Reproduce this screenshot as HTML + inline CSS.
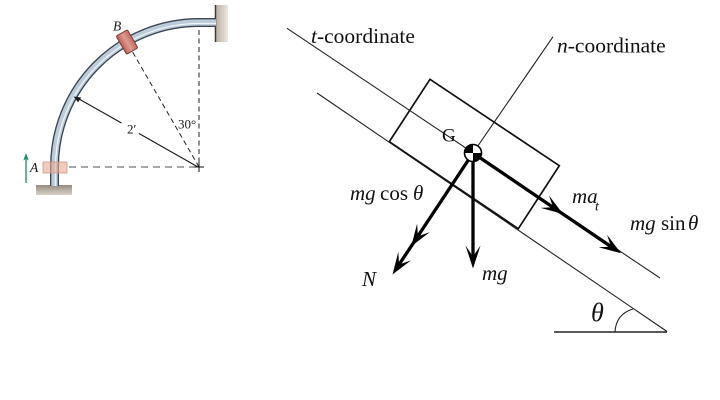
<!DOCTYPE html>
<html>
<head>
<meta charset="utf-8">
<style>
  html, body { margin:0; padding:0; background:#fff; }
  svg { display:block; }
  .serif { font-family: "Liberation Serif", "DejaVu Serif", serif; }
</style>
</head>
<body>
<svg width="720" height="400" viewBox="0 0 720 400" xmlns="http://www.w3.org/2000/svg">
  <defs>
    <linearGradient id="gnd" x1="0" y1="0" x2="0" y2="1">
      <stop offset="0" stop-color="#978c80"/>
      <stop offset="1" stop-color="#d8d1c8"/>
    </linearGradient>
    <linearGradient id="wall" x1="0" y1="0" x2="1" y2="0">
      <stop offset="0" stop-color="#b9ad9f"/>
      <stop offset="1" stop-color="#ebe6e0"/>
    </linearGradient>
    <linearGradient id="collarB" x1="0" y1="0" x2="1" y2="0">
      <stop offset="0" stop-color="#b8615a"/>
      <stop offset="0.5" stop-color="#e09a90"/>
      <stop offset="1" stop-color="#c06a60"/>
    </linearGradient>
  </defs>
  <rect width="720" height="400" fill="#fff"/>

  <!-- ================= LEFT FIGURE ================= -->
  <!-- wall -->
  <rect x="215" y="5" width="13" height="37" fill="url(#wall)"/>
  <line x1="215.5" y1="5" x2="215.5" y2="42" stroke="#3a3a3a" stroke-width="1.5"/>
  <!-- ground -->
  <rect x="36" y="185" width="36" height="10" fill="url(#gnd)"/>

  <!-- dashed lines -->
  <path d="M199,30 L199,164" stroke="#222" stroke-width="1" stroke-dasharray="5,3.5" fill="none"/>
  <path d="M69,167 L194,167" stroke="#8a8a8a" stroke-width="1.6" stroke-dasharray="7,5" fill="none"/>
  <path d="M199,167 L132,51" stroke="#222" stroke-width="1" stroke-dasharray="5,3.5" fill="none"/>
  <!-- crosshair -->
  <path d="M194,167 L204,167 M199,162 L199,172" stroke="#111" stroke-width="1"/>

  <!-- pipe -->
  <path d="M54.5,186 L54.5,167 A144.5,144.5 0 0 1 199,22.5 L216,22.5" fill="none" stroke="#3b4652" stroke-width="9"/>
  <path d="M54.5,186 L54.5,167 A144.5,144.5 0 0 1 199,22.5 L216,22.5" fill="none" stroke="#bccbd9" stroke-width="6.3"/>
  <path d="M55.5,186 L55.5,167 A143.5,143.5 0 0 1 199,23.5 L216,23.5" fill="none" stroke="#eef3f7" stroke-width="1.3"/>

  <!-- radius arrow -->
  <path d="M198,167 L139,133.5 M121.5,123 L79,99" stroke="#1a1a1a" stroke-width="1.1" fill="none"/>
  <polygon points="73.5,96.5 81.2,97.5 79.6,99.9 78.2,102.4" fill="#1a1a1a"/>

  <!-- collar A -->
  <rect x="43" y="162" width="24" height="11" fill="#e8a993" fill-opacity="0.6" stroke="#cf9584" stroke-width="0.8"/>
  <!-- collar B -->
  <g transform="translate(127,42) rotate(-30)">
    <rect x="-6.5" y="-10.5" width="13" height="21" rx="1.5" fill="url(#collarB)" stroke="#7a3c34" stroke-width="1"/>
  </g>

  <!-- green arrow -->
  <line x1="26" y1="183" x2="26" y2="158" stroke="#1e8a6a" stroke-width="1.3"/>
  <polygon points="26,153 23.3,160.5 26,158.8 28.7,160.5" fill="#1e8a6a"/>

  <!-- left labels -->
  <text x="30" y="172" class="serif" font-size="13.5" font-style="italic" fill="#1a1a1a">A</text>
  <text x="113" y="30.5" class="serif" font-size="13.5" font-style="italic" fill="#1a1a1a">B</text>
  <text x="178" y="128.5" class="serif" font-size="13" fill="#1a1a1a">30°</text>
  <text x="127" y="133.5" class="serif" font-size="13" fill="#1a1a1a">2′</text>

  <!-- ================= RIGHT FIGURE ================= -->
  <!-- t-coordinate line -->
  <line x1="287" y1="28.3" x2="660" y2="278" stroke="#222" stroke-width="1.1"/>
  <!-- surface line -->
  <line x1="317" y1="93" x2="667" y2="331.5" stroke="#222" stroke-width="1.1"/>
  <!-- ground line -->
  <line x1="554" y1="332" x2="667" y2="332" stroke="#222" stroke-width="1.4"/>
  <!-- angle arc -->
  <path d="M615,332 Q616,314 633,309" fill="none" stroke="#222" stroke-width="1.1"/>
  <!-- n-coordinate line -->
  <line x1="473" y1="153" x2="553" y2="36.7" stroke="#222" stroke-width="1.1"/>

  <!-- box -->
  <polygon points="430,79.3 559.3,165.7 518.3,228.7 389.3,141.7" fill="none" stroke="#111" stroke-width="1.7"/>

  <!-- arrows -->
  <g stroke="#000" stroke-width="3.3" fill="none">
    <line x1="473" y1="153" x2="473" y2="258"/>
    <line x1="473" y1="153" x2="399.1" y2="264.5"/>
    <line x1="473" y1="153" x2="611" y2="246.6"/>
  </g>
  <g fill="#000">
    <!-- mg -->
    <polygon points="473,268.5 465.5,245.5 473,256.5 480.5,245.5"/>
    <!-- N tip -->
    <polygon points="392.5,274.5 411.0,260.4 399.1,264.5 398.3,251.9"/>
    <!-- mg cos intermediate -->
    <polygon points="411.3,246.2 429.8,232.1 417.9,236.2 417.1,223.6"/>
    <!-- mg sin tip -->
    <polygon points="621,253.3 598.6,247.2 611.1,246.6 607.0,234.8"/>
    <!-- ma_t intermediate -->
    <polygon points="563,214 540.6,207.9 553.1,207.3 549.0,195.5"/>
  </g>

  <!-- G circle -->
  <circle cx="473" cy="153" r="8.5" fill="#fff" stroke="#000" stroke-width="1.6"/>
  <path d="M473,153 L464.5,153 A8.5,8.5 0 0 1 473,144.5 Z" fill="#000"/>
  <path d="M473,153 L481.5,153 A8.5,8.5 0 0 1 473,161.5 Z" fill="#000"/>

  <!-- right labels -->
  <g class="serif" fill="#111">
    <text x="311" y="43" font-size="21.5"><tspan font-style="italic">t</tspan>-coordinate</text>
    <text x="557" y="52.5" font-size="21.5"><tspan font-style="italic">n</tspan>-coordinate</text>
    <text x="442" y="141.5" font-size="19">G</text>

    <text x="350" y="200" font-size="21" font-style="italic">mg</text>
    <text x="380" y="200" font-size="21">cos</text>
    <text x="413" y="200" font-size="21" font-style="italic">θ</text>

    <text x="362" y="286" font-size="21" font-style="italic">N</text>
    <text x="482" y="280" font-size="21" font-style="italic">mg</text>

    <text x="572" y="203" font-size="21" font-style="italic">ma</text>
    <text x="595" y="210.5" font-size="14" font-style="italic">t</text>

    <text x="630" y="230" font-size="21" font-style="italic">mg</text>
    <text x="661" y="230" font-size="21">sin</text>
    <text x="688" y="230" font-size="21" font-style="italic">θ</text>

    <text x="591" y="321" font-size="26" font-style="italic">θ</text>
  </g>
</svg>
</body>
</html>
